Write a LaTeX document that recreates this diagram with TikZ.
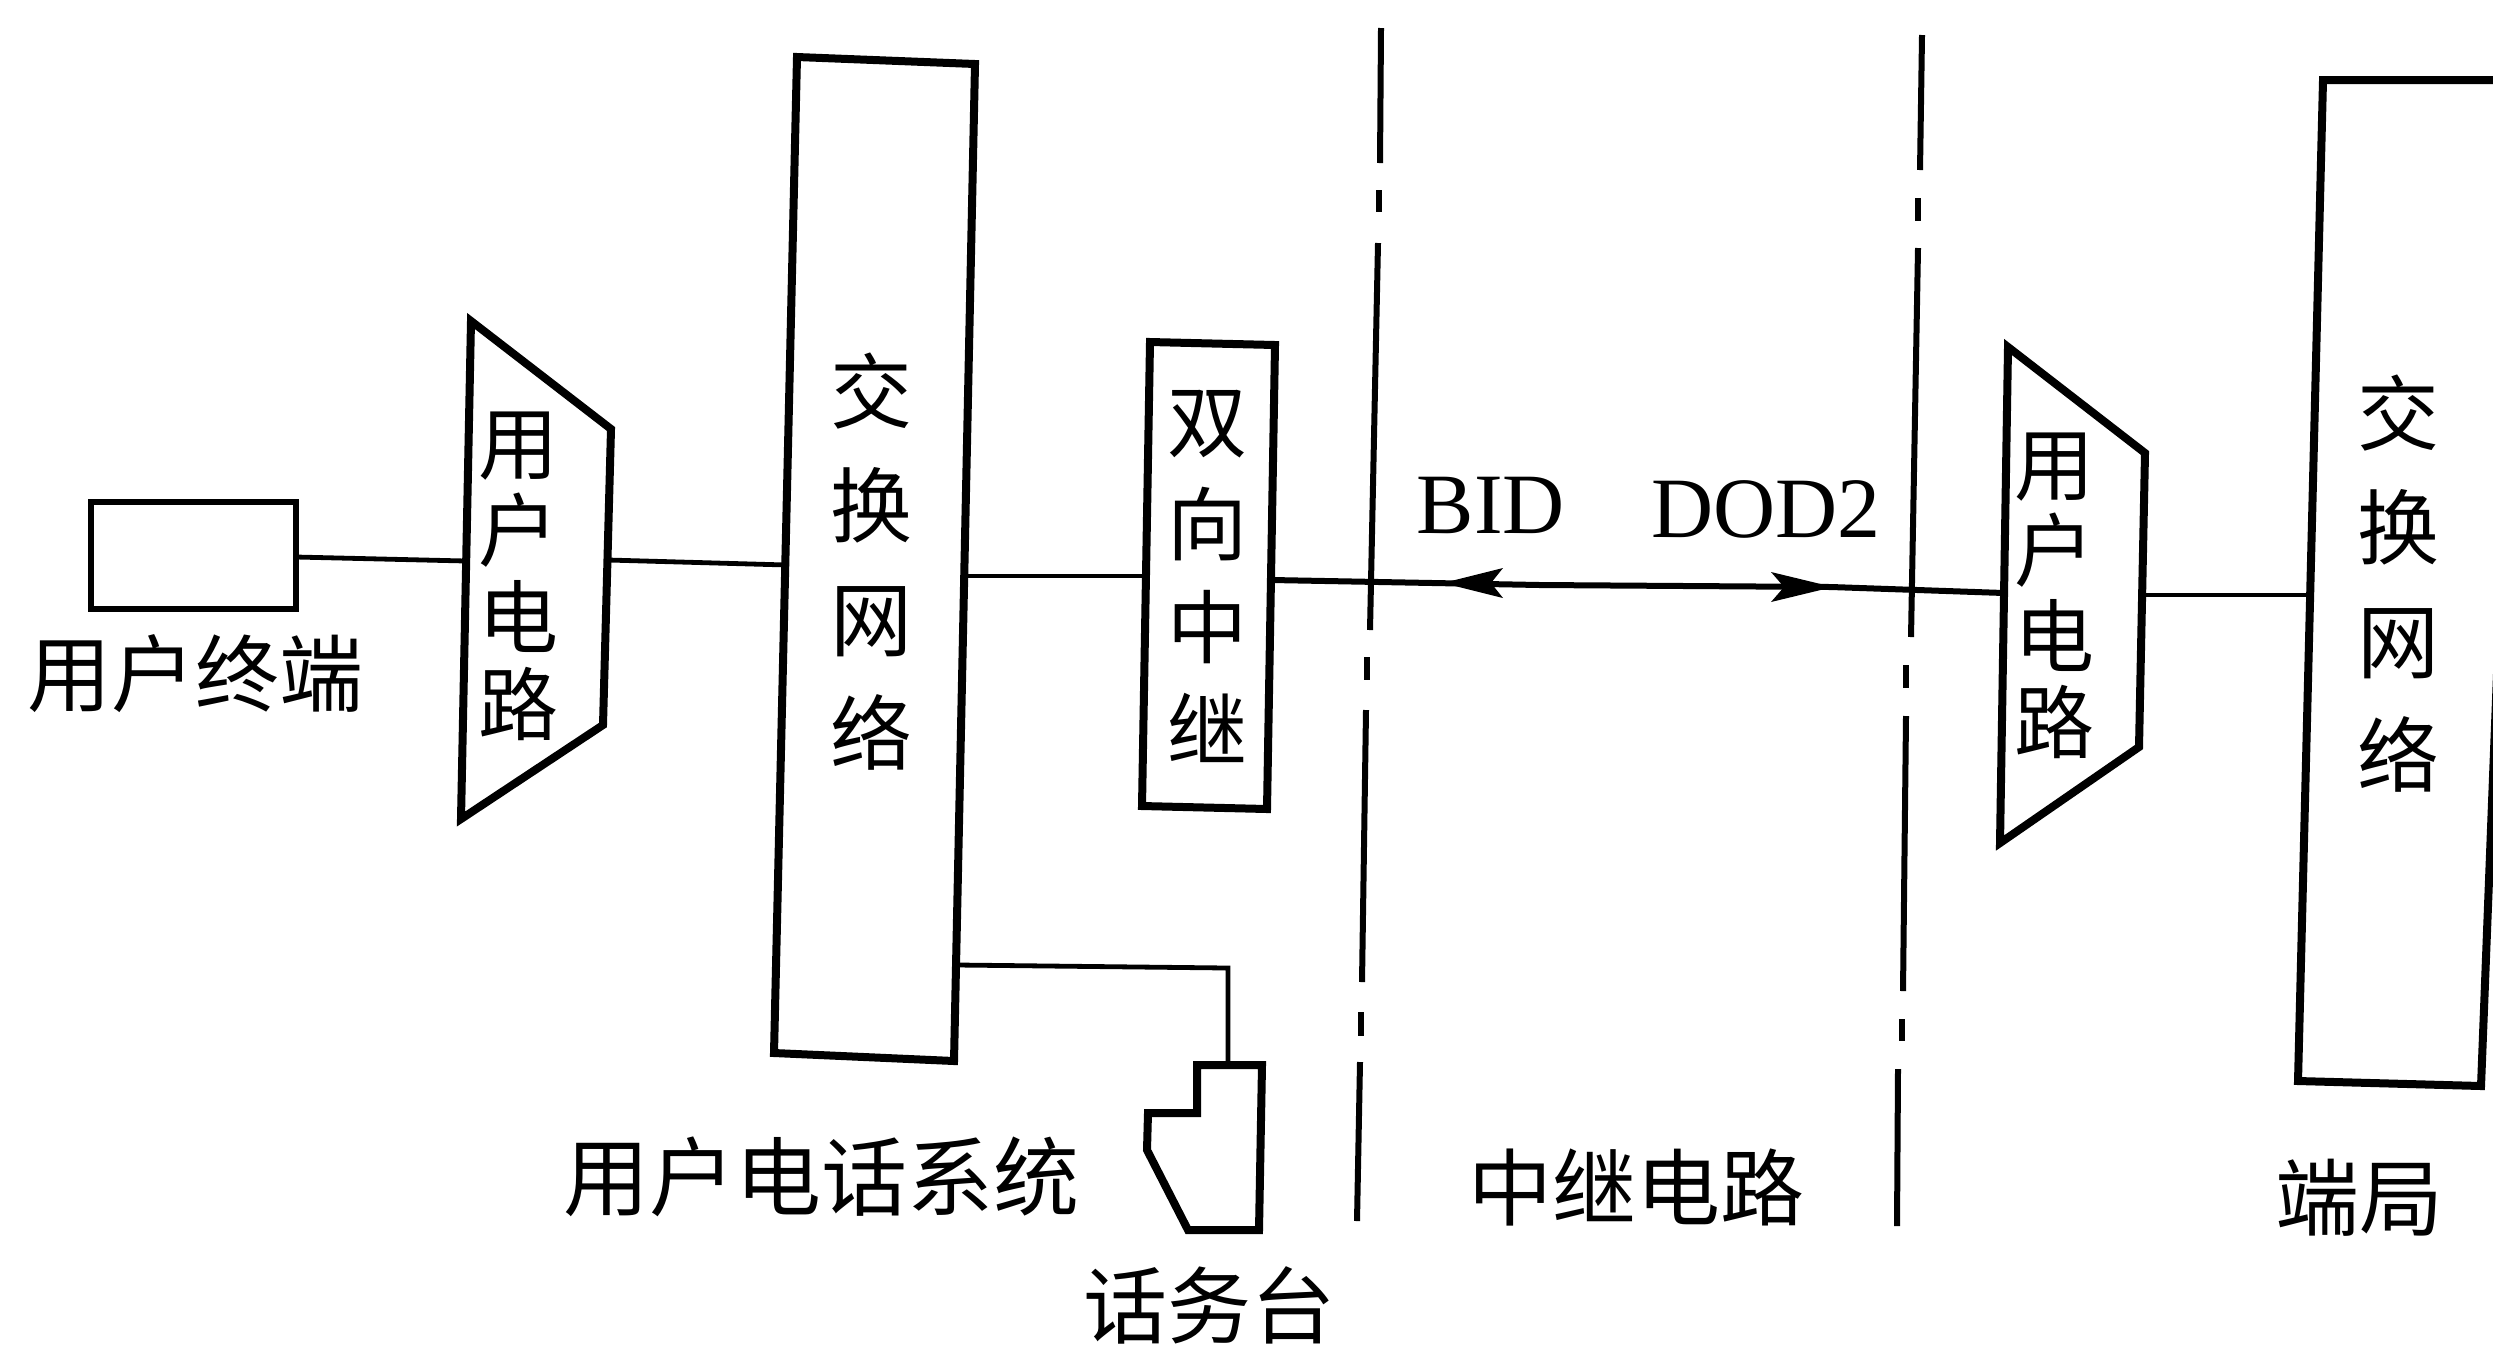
\documentclass[tikz,border=0pt]{standalone}
\usepackage{fontspec}
\usetikzlibrary{arrows.meta}
\newfontfamily\cjkfont{Noto Sans CJK SC}
\setmainfont{Liberation Serif}
\tikzset{
  unitbox/.style={draw=black,line width=4pt,line join=miter,fill=white},
  thinbox/.style={draw=black,line width=3.4pt,line join=miter,fill=white},
  wire/.style={draw=black,line width=2.4pt},
  boldwire/.style={draw=black,line width=3pt},
  bound/.style={draw=black,line width=3pt},
  head/.style={draw=none,fill=black},
  lab/.style={inner sep=0pt,font=\cjkfont\fontsize{42}{50}\selectfont},
  vlab/.style={inner sep=0pt,align=center,font=\cjkfont\fontsize{#1}{#1}\selectfont},
  latin/.style={inner sep=0pt,font=\fontsize{43}{50}\selectfont},
}
\begin{document}
\begin{tikzpicture}[x=0.5pt,y=-0.5pt]
\useasboundingbox (0,0) rectangle (2493,1346);
\fill[white] (0,0) rectangle (2493,1346);

% connection points
\coordinate (termR) at (296,557);
\coordinate (muxLin) at (466,561);
\coordinate (muxLout) at (608,560);
\coordinate (swLin) at (787,565);
\coordinate (swLout) at (965,576);
\coordinate (relayIn) at (1153,576);
\coordinate (relayOut) at (1272,580);
\coordinate (midW) at (1540,585);
\coordinate (midE) at (1831,587);
\coordinate (muxRin) at (2004,593);
\coordinate (muxRout) at (2143,595);
\coordinate (swRin) at (2309,595);
\coordinate (swOp) at (958,965);
\coordinate (opBend) at (1228,968);
\coordinate (opTop) at (1228,1065);
\coordinate (tipW) at (1443,583);
\coordinate (tipE) at (1833,587);

% wires
\draw[wire] (termR) -- (muxLin);
\draw[wire] (muxLout) -- (swLin);
\draw[wire] (swLout) -- (relayIn);
\draw[boldwire] (relayOut) -- (midW) -- (midE) -- (muxRin);
\draw[wire] (muxRout) -- (swRin);
\draw[wire] (swOp) -- (opBend) -- (opTop);

% arrowheads on the trunk
\draw[head] (tipW) -- (1503,568) -- (1491,583) -- (1503,598) -- cycle;
\draw[head] (tipE) -- (1771,572) -- (1784,587) -- (1771,602) -- cycle;

% boundaries (dash-dot)
\draw[bound] (1381,28) -- (1380,163);
\draw[bound] (1379,190) -- (1379,212);
\draw[bound] (1378,243) -- (1370,630);
\draw[bound] (1367,657) -- (1367,680);
\draw[bound] (1366,710) -- (1362,982);
\draw[bound] (1361,1012) -- (1361,1036);
\draw[bound] (1360,1062) -- (1357,1221);
\draw[bound] (1922,35) -- (1920,170);
\draw[bound] (1918,198) -- (1918,221);
\draw[bound] (1918,248) -- (1911,637);
\draw[bound] (1906,665) -- (1906,688);
\draw[bound] (1906,716) -- (1903,991);
\draw[bound] (1902,1019) -- (1902,1041);
\draw[bound] (1898,1069) -- (1897,1226);

% terminal
\draw[thinbox] (91,502) -- (296,502) -- (296,609) -- (91,609) -- cycle;
\node[lab] (termLab) at (195,674) {用户终端};

% subscriber circuit, left
\draw[unitbox] (471,321) -- (611,429) -- (603,725) -- (461,819) -- cycle;
\node[vlab=40] (muxLLab) at (518,576) {用\\[3.5pt]户\\[3.5pt]电\\[3.5pt]路};

% switching network, left
\draw[unitbox] (797,57) -- (975,64) -- (954,1061) -- (774,1053) -- cycle;
\node[vlab=41] (swLLab) at (871,562) {交\\[16pt]换\\[16pt]网\\[16pt]络};

% bidirectional trunk
\draw[unitbox] (1150,342) -- (1275,345) -- (1267,809) -- (1142,806) -- cycle;
\node[vlab=40] (relayLab) at (1207,576) {双\\[11.5pt]向\\[11.5pt]中\\[11.5pt]继};

% operator console
\draw[unitbox] (1197,1065) -- (1262,1065) -- (1259,1230) -- (1188,1230)
  -- (1147,1150) -- (1148,1113) -- (1197,1113) -- cycle;
\node[lab] (opLab) at (1209,1305) {话务台};

% subscriber circuit, right
\draw[unitbox] (2008,347) -- (2145,453) -- (2139,747) -- (2000,843) -- cycle;
\node[vlab=40] (muxRLab) at (2054,596) {用\\[3pt]户\\[3pt]电\\[3pt]路};

% switching network, right (runs off the page)
\draw[unitbox] (2323,80) -- (2520,80) -- (2481,1086) -- (2298,1081) -- cycle;
\node[vlab=41] (swRLab) at (2398,584) {交\\[16pt]换\\[16pt]网\\[16pt]络};

% labels
\node[latin] (bid) at (1491,505) {BID};
\node[latin] (dod) at (1766,509) {DOD2};
\node[lab,font=\cjkfont\fontsize{43}{50}\selectfont] (sysLab) at (821,1177) {用户电话系统};
\node[lab] (trunkLab) at (1636,1187) {中继电路};
\node[lab] (endLab) at (2359,1198) {端局};
\end{tikzpicture}
\end{document}
